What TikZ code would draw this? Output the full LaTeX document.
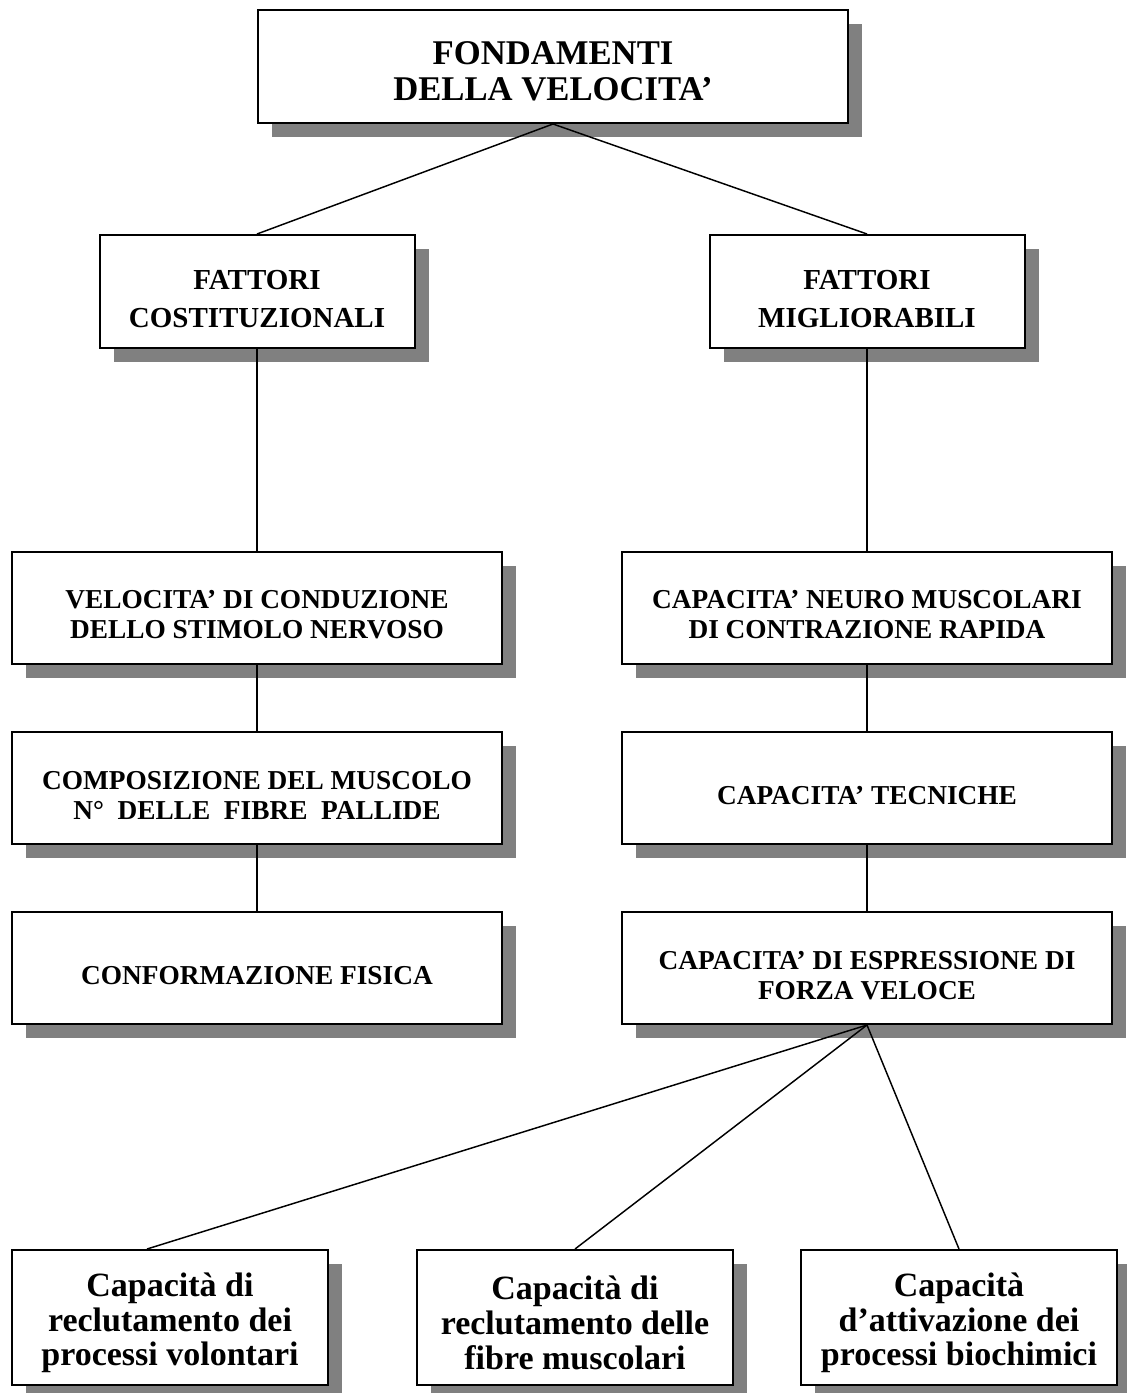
\documentclass[tikz,border=0pt]{standalone}
\usepackage{fontspec}
\setmainfont{Liberation Serif}
\usepackage{tikz}
\usetikzlibrary{positioning,shadows}
% strut that pushes the first line down inside a box
\newcommand\lift{\rule{0pt}{\dimexpr0.7em+\liftby\relax}}

\begin{document}
\begin{tikzpicture}[x=0.75pt,y=-0.75pt,
      box/.style={rectangle,draw,line width=1.5pt,fill=white,align=center,inner sep=0pt,
        drop shadow={shadow xshift=10.5pt,shadow yshift=-10.5pt,fill=gray,opacity=1},
        execute at begin node={\def\liftby{#1}}},
      head/.style={box=6pt,minimum width=442.5pt,minimum height=84.75pt,
        font=\bfseries\fontsize{26}{26.5}\selectfont},
      group/.style={box=11pt,minimum width=236.25pt,minimum height=84.75pt,
        font=\bfseries\fontsize{21.75}{28.5}\selectfont},
      item/.style={box=10pt,minimum width=367.5pt,minimum height=84pt,
        font=\bfseries\fontsize{20.5}{22.5}\selectfont},
      leaf/.style={box=8pt,minimum width=237pt,minimum height=101.25pt,
        font=\bfseries\fontsize{25.5}{26}\selectfont},
      link/.style={line width=1.1pt}]
    \useasboundingbox (0,0) rectangle (1127,1393);
    % root
    \node[head] (T) at (553,66.5) {\lift FONDAMENTI\\DELLA VELOCITA’};
    % the two groups of factors
    \node[group] (FC) at (257,291.5) {\lift FATTORI\\COSTITUZIONALI};
    \node[group] (FM) at (867,291.5) {\lift FATTORI\\MIGLIORABILI};
    % left column
    \node[item] (V1) at (257,607.5) {\lift VELOCITA’ DI CONDUZIONE\\DELLO STIMOLO NERVOSO};
    \node[item] (V2) at (257,788) {\lift COMPOSIZIONE DEL MUSCOLO\\N°\ \ DELLE\ \ FIBRE\ \ PALLIDE};
    \node[item] (V3) at (257,968) {\lift CONFORMAZIONE FISICA};
    % right column
    \node[item] (R1) at (867,607.5) {\lift CAPACITA’ NEURO MUSCOLARI\\DI CONTRAZIONE RAPIDA};
    \node[item] (R2) at (867,788) {\lift CAPACITA’ TECNICHE};
    \node[item] (R3) at (867,968) {\lift CAPACITA’ DI ESPRESSIONE DI\\FORZA VELOCE};
    % bottom row
    \node[leaf] (B1) at (170,1317.5) {\lift Capacità di\\reclutamento dei\\processi volontari};
    \node[leaf] (B2) at (575,1317.5) {\lift Capacità di\\reclutamento delle\\fibre muscolari};
    \node[leaf] (B3) at (959,1317.5) {\lift Capacità\\d’attivazione dei\\processi biochimici};
    % connections
    \foreach \a/\b in {T/FC,T/FM,FC/V1,V1/V2,V2/V3,FM/R1,R1/R2,R2/R3,R3/B2,R3/B3}
      \draw[link] (\a.south) -- (\b.north);
    \draw[link] (R3.south) -- ([xshift=-17.25pt]B1.north);
  \end{tikzpicture}
\end{document}
